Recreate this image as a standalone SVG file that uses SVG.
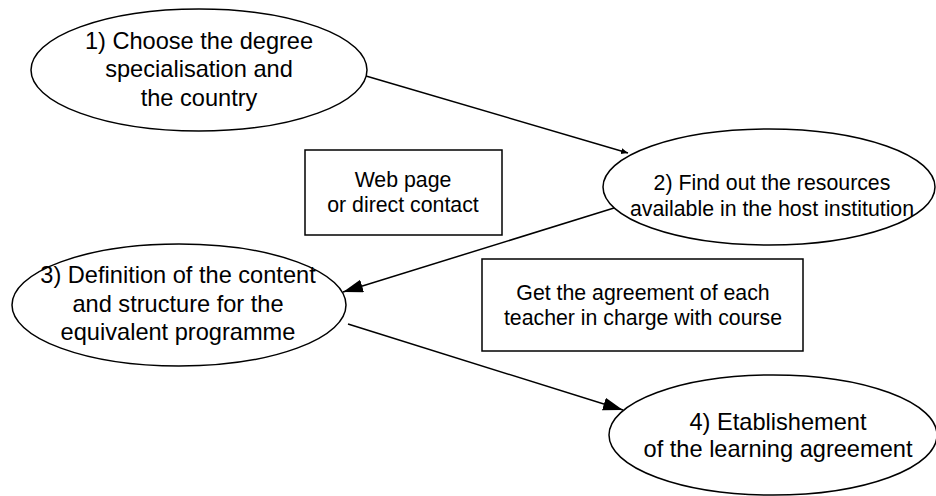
<svg xmlns="http://www.w3.org/2000/svg" width="936" height="496" viewBox="0 0 936 496">
<defs>
<style>
.n{fill:#fff;stroke:#000;stroke-width:1.5}
.t{font-family:"Liberation Sans",Arial,sans-serif;font-size:21.3px;fill:#000;text-anchor:middle}
.L{font-size:23.6px}
.c{fill:none;stroke:#000;stroke-width:1.5}
</style>
<marker id="ah" markerUnits="userSpaceOnUse" markerWidth="22" markerHeight="14" refX="20" refY="6.5" orient="auto">
<path d="M0,0 L20,6.5 L0,13 z" fill="#000"/>
</marker>
<marker id="as" markerUnits="userSpaceOnUse" markerWidth="8" markerHeight="8" refX="7" refY="3" orient="auto">
<path d="M0,0 L7,3 L0,6 z" fill="#000"/>
</marker>
</defs>
<rect width="936" height="496" fill="#fff"/>
<g id="connectors">
<line class="c" x1="366" y1="76" x2="628" y2="153" marker-end="url(#as)"/>
<line class="c" x1="614" y1="208" x2="343" y2="292" marker-end="url(#ah)"/>
<line class="c" x1="348" y1="324" x2="623" y2="410" marker-end="url(#ah)"/>
</g>
<g id="node1">
<ellipse class="n" cx="199" cy="70" rx="168" ry="61"/>
<text class="t L" x="199" y="49">1) Choose the degree</text>
<text class="t L" x="199" y="77">specialisation and</text>
<text class="t L" x="199" y="106">the country</text>
</g>
<g id="node2">
<ellipse class="n" cx="769" cy="187" rx="166" ry="58"/>
<text class="t" x="772" y="190">2) Find out the resources</text>
<text class="t" x="772" y="216">available in the host institution</text>
</g>
<g id="node3">
<ellipse class="n" cx="179" cy="305" rx="167" ry="61"/>
<text class="t L" x="178" y="283">3) Definition of the content</text>
<text class="t L" x="178" y="312">and structure for the</text>
<text class="t L" x="178" y="340">equivalent programme</text>
</g>
<g id="node4">
<ellipse class="n" cx="773" cy="435" rx="164" ry="60"/>
<text class="t L" x="778" y="430">4) Etablishement</text>
<text class="t L" x="778" y="457">of the learning agreement</text>
</g>
<g id="box1">
<rect class="n" x="305" y="150" width="197" height="85"/>
<text class="t" x="403" y="187">Web page</text>
<text class="t" x="403" y="212">or direct contact</text>
</g>
<g id="box2">
<rect class="n" x="482" y="259" width="321" height="92"/>
<text class="t" x="643" y="300">Get the agreement of each</text>
<text class="t" x="643" y="325">teacher in charge with course</text>
</g>
</svg>
